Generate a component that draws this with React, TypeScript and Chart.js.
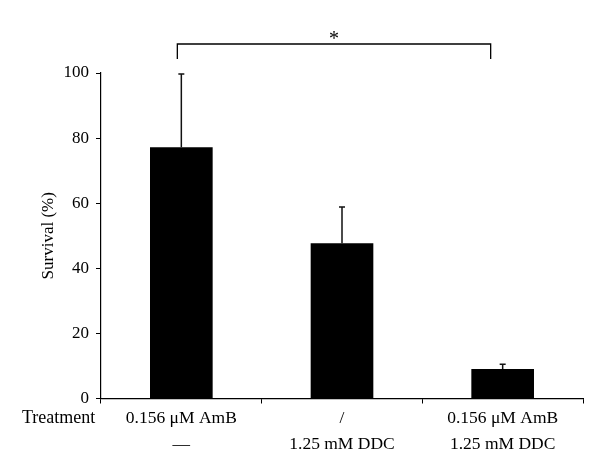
import React, { useEffect, useRef } from "react";
import { Chart, registerables } from "chart.js";

Chart.register(...registerables);

const categories: string[][] = [
  ["0.156 μM AmB", "—"],
  ["/", "1.25 mM DDC"],
  ["0.156 μM AmB", "1.25 mM DDC"],
];
const survival: number[] = [77.2, 47.7, 9.1];
const errors: number[] = [22.5, 11.1, 1.4];
const yTicks: number[] = [0, 20, 40, 60, 80, 100];
const rowLabel = "Treatment";
const sigLabel = "*";
const sigPair: number[] = [0, 2];

const FONT = "'Liberation Serif', 'Times New Roman', serif";

const overlay = {
  id: "overlay",
  afterDatasetsDraw(chart: any) {
    const { ctx, scales } = chart;
    const x = scales.x;
    const y = scales.y;
    ctx.save();
    ctx.strokeStyle = "#111";
    ctx.lineWidth = 1.5;
    survival.forEach((v, i) => {
      const px = x.getPixelForValue(i);
      const top = y.getPixelForValue(v + errors[i]);
      const base = y.getPixelForValue(v);
      ctx.beginPath();
      ctx.moveTo(px, base);
      ctx.lineTo(px, top);
      ctx.moveTo(px - 3, top);
      ctx.lineTo(px + 3, top);
      ctx.stroke();
    });
    ctx.restore();
  },
  afterDraw(chart: any) {
    const { ctx, scales, chartArea } = chart;
    const x = scales.x;
    ctx.save();
    ctx.fillStyle = "#000";
    ctx.font = `18px ${FONT}`;
    ctx.textAlign = "left";
    ctx.textBaseline = "middle";
    ctx.fillText(rowLabel, 22, chartArea.bottom + 20);
    const x1 = x.getPixelForValue(sigPair[0]) - 4;
    const x2 = x.getPixelForValue(sigPair[1]) - 12;
    const yLine = chartArea.top - 29;
    ctx.strokeStyle = "#000";
    ctx.lineWidth = 1.3;
    ctx.beginPath();
    ctx.moveTo(x1, yLine + 15);
    ctx.lineTo(x1, yLine);
    ctx.lineTo(x2, yLine);
    ctx.lineTo(x2, yLine + 15);
    ctx.stroke();
    ctx.font = `20px ${FONT}`;
    ctx.textAlign = "center";
    ctx.textBaseline = "alphabetic";
    ctx.fillText(sigLabel, (x1 + x2) / 2, yLine + 0.5);
    ctx.restore();
  },
};

export default function App() {
  const ref = useRef<HTMLCanvasElement | null>(null);
  useEffect(() => {
    document.body.style.margin = "0";
    const chart = new Chart(ref.current as HTMLCanvasElement, {
      type: "bar",
      data: {
        labels: categories,
        datasets: [
          {
            data: survival,
            backgroundColor: "#000",
            borderWidth: 0,
            barPercentage: 0.39,
            categoryPercentage: 1,
          },
        ],
      },
      options: {
        responsive: false,
        animation: false,
        devicePixelRatio: 1,
        layout: { padding: { left: 0, top: 73, right: 17, bottom: 0 } },
        plugins: { legend: { display: false }, tooltip: { enabled: false } },
        scales: {
          x: {
            grid: {
              display: true,
              drawOnChartArea: false,
              drawTicks: true,
              tickLength: 5,
              color: "#000",
              lineWidth: 1,
            },
            border: { display: true, color: "#000", width: 1.2 },
            ticks: {
              color: "#000",
              font: { family: FONT, size: 17.5, lineHeight: 1.49 },
              padding: 2,
              maxRotation: 0,
              autoSkip: false,
            },
            afterFit: (axis: any) => {
              axis.height = 77.5;
            },
          },
          y: {
            min: 0,
            max: 100,
            afterBuildTicks: (axis: any) => {
              axis.ticks = yTicks.map((v) => ({ value: v }));
            },
            grid: {
              display: true,
              drawOnChartArea: false,
              drawTicks: true,
              tickLength: 5,
              color: "#000",
              lineWidth: 1,
            },
            border: { display: true, color: "#000", width: 1.2 },
            ticks: {
              color: "#000",
              font: { family: FONT, size: 17 },
              padding: 7,
            },
            title: {
              display: true,
              text: "Survival (%)",
              color: "#000",
              font: { family: FONT, size: 17 },
              padding: { top: 38, bottom: 0 },
            },
            afterFit: (axis: any) => {
              axis.width = 101;
            },
          },
        },
      },
      plugins: [overlay],
    });
    return () => chart.destroy();
  }, []);
  return (
    <div style={{ position: "absolute", left: 0, top: 0, width: 600, height: 476 }}>
      <canvas ref={ref} width={600} height={476} />
    </div>
  );
}
